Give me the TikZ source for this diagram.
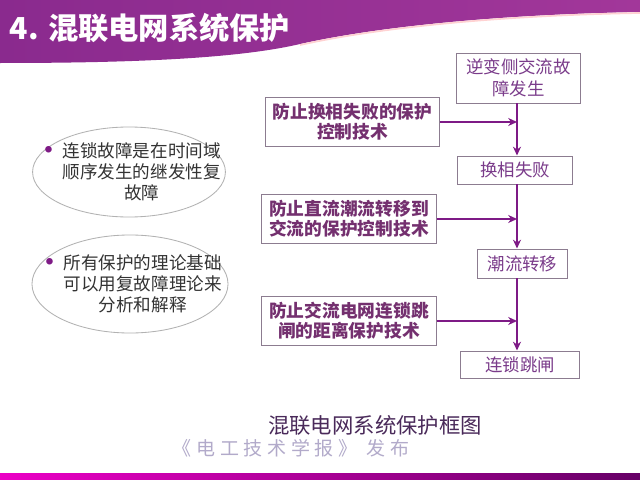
\documentclass[tikz,border=0pt]{standalone}
\usepackage{fontspec}
\usepackage{xcolor}
\usepackage{tikz}
\usetikzlibrary{arrows.meta, positioning, shapes.geometric}
\newfontfamily\cjk{Noto Sans CJK SC}
\definecolor{banner}{HTML}{8A2A8E}
\definecolor{bannerR}{HTML}{A2379A}
\definecolor{arrpurple}{HTML}{7E1A86}
\definecolor{boxline}{HTML}{8C7C90}
\definecolor{rtext}{HTML}{7A3B8A}
\definecolor{ltext}{HTML}{74306F}
\definecolor{captext}{HTML}{4A2A5A}
\definecolor{wmark}{HTML}{B2AACA}
\newcommand{\pbullet}{\llap{\raisebox{-3pt}{\textcolor{arrpurple}{\fontsize{22}{14}\selectfont\textbullet}}\kern-1.5pt}}

\begin{document}
\begin{tikzpicture}[x=0.025cm, y=-0.025cm, font=\cjk,
      rbox/.style={rectangle, draw=boxline, line width=0.7pt, inner sep=0pt, align=center, text=rtext, font=\cjk\fontsize{12.4}{15.6}\selectfont},
      lbox/.style={rectangle, draw=boxline, line width=0.7pt, inner sep=0pt, align=center, text=ltext, font=\cjk\bfseries\fontsize{12.6}{14.4}\selectfont, minimum width=4.35cm, minimum height=1.24cm},
      oval/.style={ellipse, draw=gray!60, line width=0.6pt, fill=white, inner sep=0pt, minimum width=4.82cm},
      notetext/.style={inner sep=0pt, align=center, text=black!80, font=\cjk\fontsize{12.5}{14.9}\selectfont},
      arr/.style={-{Stealth[length=2.2mm, width=2mm]}, line width=1.4pt, arrpurple}]
      \useasboundingbox (0,0) rectangle (640,480);
      \fill[white] (0,0) rectangle (640,480);
      % title banner
      \shade[left color=banner, right color=bannerR] (0,0) -- (640,0) -- (640,12)
        .. controls (520,14) and (390,24) .. (300,44)
        .. controls (240,58) and (140,63) .. (0,63) -- cycle;
      \draw[pink!70!white, line width=1.2pt] (640,13) .. controls (520,15) and (390,25) .. (300,45);
      \node[anchor=west, text=white, font=\cjk\bfseries\fontsize{21.5}{24}\selectfont] (title) at (5,28) {4. 混联电网系统保护};
      % bottom band
      \shade[left color=magenta!70!purple, right color=violet!80!black] (0,473) rectangle (640,480);
      % right-hand chain
      \coordinate (spine) at (517,0);
      \node[rbox, minimum width=3.075cm, minimum height=1.25cm] (fault) at (518.5,78) {逆变侧交流故\\障发生};
      \node[rbox, minimum width=2.85cm, minimum height=0.7cm] (fail) at (515,170) {换相失败};
      \node[rbox, minimum width=2.225cm, minimum height=0.725cm] (shift) at (522.5,263.5) {潮流转移};
      \node[rbox, minimum width=2.95cm, minimum height=0.675cm] (trip) at (520,364.5) {连锁跳闸};
      % protection measures
      \node[lbox] (pfail) at (352.5,122) {防止换相失败的保护\\控制技术};
      \node[lbox] (pshift) at (349,219) {防止直流潮流转移到\\交流的保护控制技术};
      \node[lbox] (ptrip) at (349,321) {防止交流电网连锁跳\\闸的距离保护技术};
      \draw[arr] (fault.south -| spine) -- (fail.north -| spine);
      \draw[arr] (fail.south -| spine) -- (shift.north -| spine);
      \draw[arr] (shift.south -| spine) -- (trip.north -| spine);
      \draw[arr] (pfail.east) -- (pfail.east -| spine);
      \draw[arr] (pshift.east) -- (pshift.east -| spine);
      \draw[arr] (ptrip.east) -- (ptrip.east -| spine);
      % notes
      \node[oval, minimum height=2.25cm] (note1) at (129,172) {};
      \node[oval, minimum height=2.45cm, minimum width=4.9cm] (note2) at (130,284) {};
      \node[notetext] (text1) at ([xshift=9pt]note1.center) {\pbullet 连锁故障是在时间域\\顺序发生的继发性复\\故障};
      \node[notetext] (text2) at ([xshift=9pt]note2.center) {\pbullet 所有保护的理论基础\\可以用复故障理论来\\分析和解释};
      \node[text=captext, font=\cjk\fontsize{15.2}{18}\selectfont] (cap) at (375,425) {混联电网系统保护框图};
      \node[text=wmark, font=\cjk\fontsize{13.5}{16}\selectfont\addfontfeatures{LetterSpace=25}] (mark) at (291,448) {《电工技术学报》 发布};
    \end{tikzpicture}
\end{document}
